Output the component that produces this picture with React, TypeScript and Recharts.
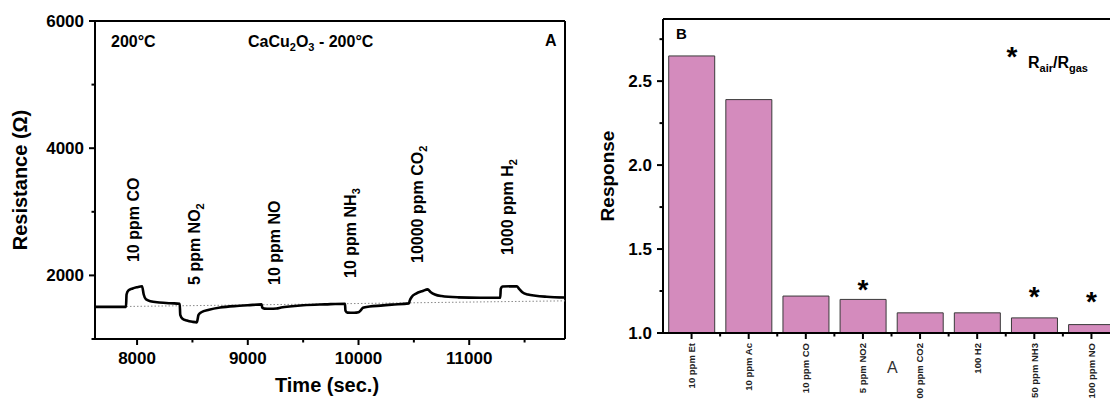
import React from 'react';
import {
  ComposedChart,
  Line,
  XAxis,
  YAxis,
  ReferenceLine,
  ReferenceDot,
  BarChart,
  Bar,
} from 'recharts';

const FONT = '"Liberation Sans", Arial, Helvetica, sans-serif';

// ---- panel A: resistance vs time ----
const timeSec = [
  7620, 7900, 7905, 7920, 7960, 8000, 8045, 8060, 8080, 8120, 8200, 8300, 8385, 8390, 8410, 8450,
  8500, 8540, 8555, 8580, 8650, 8750, 8900, 9000, 9125, 9130, 9150, 9200, 9260, 9300, 9400, 9500,
  9700, 9878, 9882, 9900, 9960, 10000, 10020, 10040, 10100, 10200, 10300, 10455, 10462, 10480,
  10520, 10580, 10625, 10650, 10690, 10750, 10900, 11100, 11280, 11285, 11300, 11430, 11450,
  11480, 11530, 11600, 11700, 11865,
];
const resistance = [
  1505, 1505, 1700, 1760, 1795, 1815, 1830, 1700, 1625, 1595, 1575, 1562, 1555, 1380, 1320, 1290,
  1270, 1262, 1380, 1420, 1460, 1495, 1520, 1530, 1545, 1495, 1478, 1475, 1480, 1495, 1515, 1530,
  1545, 1555, 1445, 1415, 1412, 1420, 1450, 1490, 1510, 1525, 1540, 1560, 1600, 1660, 1715,
  1755, 1780, 1740, 1700, 1675, 1655, 1648, 1648, 1790, 1825, 1830, 1790, 1735, 1700, 1680,
  1665, 1652,
];
const baselineTime = [7620, 11865];
const baselineRes = [1505, 1600];

const xMajorA = [8000, 9000, 10000, 11000];
const xMinorA = [8500, 9500, 10500, 11500];
const yMajorA = [2000, 4000, 6000];
const yMinorA = [1000, 3000, 5000];

const gasText = ['10 ppm CO', '5 ppm NO', '10 ppm NO', '10 ppm NH', '10000 ppm CO', '1000 ppm H'];
const gasSub = ['', '2', '', '3', '2', '2'];
const gasTime = [7963, 8514, 9237, 9923, 10528, 11341];
const gasLabelRes = [2210, 1850, 1850, 1960, 2195, 2320];

// ---- panel B: response bars ----
const gasCats = [
  '10 ppm Et',
  '10 ppm Ac',
  '10 ppm CO',
  '5 ppm NO2',
  '00 ppm CO2',
  '100 H2',
  '50 ppm NH3',
  '100 ppm NO',
];
const responseVal = [2.65, 2.39, 1.22, 1.2, 1.12, 1.12, 1.09, 1.05];
const starAt = [null, null, null, 1.3, null, null, 1.256, 1.226];
const yMajorB = [1.0, 1.5, 2.0, 2.5];
const yMinorB = [1.25, 1.75, 2.25, 2.75];

const lineData = timeSec.map((t, i) => ({ t, r: resistance[i] }));
const baseData = baselineTime.map((t, i) => ({ t, r: baselineRes[i] }));
const barData = gasCats.map((cat, i) => ({ cat, resp: responseVal[i] }));

const TS = 6;
const TM = 7;
const TM_CAT = 4;

const BottomTick = (props: any) => {
  const { x, y, payload } = props;
  const axisY = y - TS - TM;
  const major = xMajorA.includes(payload.value);
  return (
    <g>
      <line x1={x} x2={x} y1={axisY} y2={axisY + (major ? 6 : 3.5)} stroke="#000" strokeWidth={2} />
      {major && (
        <text x={x} y={y} dy="0.71em" textAnchor="middle" fontFamily={FONT} fontWeight="bold" fontSize={17} fill="#000">
          {payload.value}
        </text>
      )}
    </g>
  );
};

const makeLeftTick = (majors: number[], digits: number) => (props: any) => {
  const { x, y, payload } = props;
  const axisX = x + TS + 5;
  const major = majors.some((m) => Math.abs(m - payload.value) < 1e-6);
  return (
    <g>
      <line x1={axisX} x2={axisX - (major ? 6 : 3.5)} y1={y} y2={y} stroke="#000" strokeWidth={2} />
      {major && (
        <text x={x} y={y} dy="0.35em" textAnchor="end" fontFamily={FONT} fontWeight="bold" fontSize={17} fill="#000">
          {payload.value.toFixed(digits)}
        </text>
      )}
    </g>
  );
};

const CatTick = (props: any) => {
  const { x, y, payload } = props;
  const axisY = y - TS - TM_CAT;
  const half = payload.offset ?? 28.57;
  return (
    <g>
      <line x1={x} x2={x} y1={axisY} y2={axisY + 6} stroke="#000" strokeWidth={2} />
      <line x1={x + half} x2={x + half} y1={axisY} y2={axisY + 3.5} stroke="#000" strokeWidth={2} />
      <text
        x={x}
        y={y}
        transform={`rotate(-90 ${x} ${y})`}
        dy="0.35em"
        textAnchor="end"
        fontFamily={FONT}
        fontWeight="bold"
        fontSize={9.5}
        fill="#222"
      >
        {payload.value}
      </text>
    </g>
  );
};

const GasLabel = (p: any) => (
  <text
    x={p.cx}
    y={p.cy}
    transform={`rotate(-90 ${p.cx} ${p.cy})`}
    dy="0.35em"
    textAnchor="start"
    fontFamily={FONT}
    fontWeight="bold"
    fontSize={16}
    fill="#000"
  >
    {p.text}
    {p.sub && (
      <tspan dy={4} fontSize={11}>
        {p.sub}
      </tspan>
    )}
  </text>
);

const Star = (p: any) => (
  <text x={p.cx} y={p.cy + 16} textAnchor="middle" fontFamily={FONT} fontWeight="bold" fontSize={28} fill="#000">
    *
  </text>
);

const axisStyle = { stroke: '#000', strokeWidth: 2 };

export default function App() {
  return (
    <div
      style={{
        position: 'absolute',
        left: 0,
        top: 0,
        width: 1110,
        height: 399,
        overflow: 'hidden',
        background: '#fff',
        fontFamily: FONT,
      }}
    >
      <div style={{ position: 'absolute', left: 0, top: 0 }}>
        <ComposedChart width={580} height={399} data={lineData} margin={{ top: 21, right: 15, left: 35, bottom: 15 }}>
          <XAxis
            dataKey="t"
            type="number"
            domain={[7620, 11865]}
            ticks={[...xMajorA, ...xMinorA].sort((a, b) => a - b)}
            allowDataOverflow
            interval={0}
            height={45}
            tickSize={TS}
            tickMargin={TM}
            tickLine={false}
            axisLine={axisStyle}
            tick={BottomTick}
          />
          <YAxis
            type="number"
            domain={[1000, 6000]}
            ticks={[...yMajorA, ...yMinorA].sort((a, b) => a - b)}
            allowDataOverflow
            interval={0}
            width={60}
            tickSize={TS}
            tickMargin={5}
            tickLine={false}
            axisLine={axisStyle}
            tick={makeLeftTick(yMajorA, 0)}
          />
          <ReferenceLine y={6000} stroke="#000" strokeWidth={2} ifOverflow="visible" />
          <ReferenceLine x={11865} stroke="#000" strokeWidth={2} ifOverflow="visible" />
          <Line
            data={baseData}
            dataKey="r"
            type="linear"
            stroke="#8a8a8a"
            strokeWidth={1}
            strokeDasharray="1.5 2"
            dot={false}
            isAnimationActive={false}
          />
          <Line dataKey="r" type="monotone" stroke="#000" strokeWidth={2.6} dot={false} isAnimationActive={false} />
          {gasText.map((g, i) => (
            <ReferenceDot
              key={g}
              x={gasTime[i]}
              y={gasLabelRes[i]}
              r={0}
              ifOverflow="visible"
              shape={(p: any) => <GasLabel cx={p.cx} cy={p.cy} text={g} sub={gasSub[i]} />}
            />
          ))}
        </ComposedChart>
      </div>

      <div style={{ position: 'absolute', left: 600, top: 0 }}>
        <BarChart
          width={530}
          height={399}
          data={barData}
          barCategoryGap="10%"
          margin={{ top: 19, right: 10, left: 23, bottom: 6 }}
        >
          <XAxis
            dataKey="cat"
            interval={0}
            height={60}
            tickSize={TS}
            tickMargin={TM_CAT}
            tickLine={false}
            axisLine={axisStyle}
            tick={CatTick}
          />
          <YAxis
            type="number"
            domain={[1, 2.87]}
            ticks={[...yMajorB, ...yMinorB].sort((a, b) => a - b)}
            allowDataOverflow
            interval={0}
            width={40}
            tickSize={TS}
            tickMargin={5}
            tickLine={false}
            axisLine={axisStyle}
            tick={makeLeftTick(yMajorB, 1)}
          />
          <ReferenceLine y={2.87} stroke="#000" strokeWidth={2} ifOverflow="visible" />
          <Bar dataKey="resp" fill="#d48bbd" stroke="#3a3a3a" strokeWidth={1} isAnimationActive={false} />
          {gasCats.map((c, i) =>
            starAt[i] == null ? null : (
              <ReferenceDot key={c} x={c} y={starAt[i] as number} r={0} ifOverflow="visible" shape={Star} />
            )
          )}
        </BarChart>
      </div>

      <svg
        width={1110}
        height={399}
        style={{ position: 'absolute', left: 0, top: 0, pointerEvents: 'none' }}
        fontFamily={FONT}
        fontWeight="bold"
      >
        <text x={20} y={180} transform="rotate(-90 20 180)" dy="0.35em" textAnchor="middle" fontSize={20}>
          Resistance (Ω)
        </text>
        <text x={327} y={392} textAnchor="middle" fontSize={20}>
          Time (sec.)
        </text>
        <text x={111} y={47} fontSize={16}>
          200°C
        </text>
        <text x={248} y={47} fontSize={16}>
          CaCu<tspan dy={4} fontSize={11}>2</tspan>
          <tspan dy={-4}>O</tspan>
          <tspan dy={4} fontSize={11}>3</tspan>
          <tspan dy={-4}> - 200°C</tspan>
        </text>
        <text x={545} y={46} fontSize={16}>
          A
        </text>
        <text x={607} y={176} transform="rotate(-90 607 176)" dy="0.35em" textAnchor="middle" fontSize={19}>
          Response
        </text>
        <text x={676} y={39} fontSize={15}>
          B
        </text>
        <text x={1012} y={66} textAnchor="middle" fontSize={28}>
          *
        </text>
        <text x={1028} y={68} fontSize={16}>
          R<tspan dy={4} fontSize={11}>air</tspan>
          <tspan dy={-4}>/R</tspan>
          <tspan dy={4} fontSize={11}>gas</tspan>
        </text>
        <text x={887} y={373} fontSize={16} fontWeight="normal" fill="#333">
          A
        </text>
      </svg>
    </div>
  );
}
